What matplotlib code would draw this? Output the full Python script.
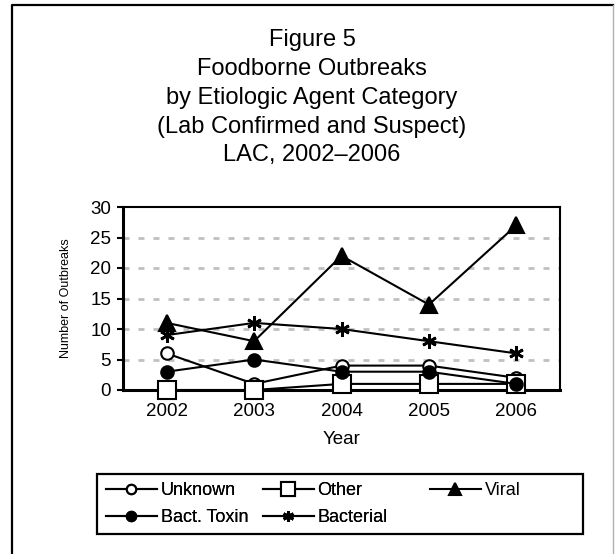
import matplotlib
matplotlib.use("Agg")
import matplotlib.pyplot as plt
from matplotlib.lines import Line2D
from matplotlib.patches import Rectangle

plt.rcParams['font.family'] = ['Liberation Sans', 'DejaVu Sans']
plt.rcParams['lines.scale_dashes'] = False

# data
years = ["2002", "2003", "2004", "2005", "2006"]
unknown = [6, 1, 4, 4, 2]
other = [0, 0, 1, 1, 1]
viral = [11, 8, 22, 14, 27]
bact_toxin = [3, 5, 3, 3, 1]
bacterial = [9, 11, 10, 8, 6]

title_lines = ["Figure 5", "Foodborne Outbreaks", "by Etiologic Agent Category",
               "(Lab Confirmed and Suspect)", "LAC, 2002\u20132006"]

W, H = 615, 554
def fx(x):
    return x / W
def fy(y):
    return 1 - y / H

fig = plt.figure(figsize=(6.15, 5.54), dpi=100)

# outer frame
fig.add_artist(Line2D([fx(12), fx(12), fx(613)], [0, fy(5), fy(5)], color="black", lw=1.6))
fig.add_artist(Line2D([fx(613), fx(613)], [fy(5), 0], color="#b0b0b0", lw=1.0))

# title
baselines = [46, 75, 104, 132.5, 161]
for line, yb in zip(title_lines, baselines):
    fig.text(fx(312), fy(yb), line, ha="center", va="baseline", fontsize=17)

ax = fig.add_axes([fx(123), fy(390), (560 - 123) / W, (390 - 207) / H])
x = list(range(len(years)))

style = dict(color="black", lw=1.5, mec="black", clip_on=False, zorder=3)
ax.plot(x, unknown, marker="o", ms=9, mfc="white", mew=1.5, label="Unknown", **style)
ax.plot(x, other, marker="s", ms=12.5, mfc="white", mew=1.5, label="Other", **style)
ax.plot(x, viral, marker="^", ms=11, mfc="black", mew=1.5, label="Viral", **style)
ax.plot(x, bact_toxin, marker="o", ms=9, mfc="black", mew=1.5, label="Bact. Toxin", **style)
ax.plot(x, bacterial, marker=(6, 2, 0), ms=10.5, mew=2, label="Bacterial", **style)

ax.set_xlim(-0.5, len(years) - 0.5)
ax.set_ylim(0, 30)
ax.set_yticks([0, 5, 10, 15, 20, 25, 30])
ax.set_xticks(x)
ax.set_xticklabels(years)
for yv in [5, 10, 15, 20, 25]:
    ax.axhline(yv, color="#c0c0c0", lw=2, dashes=(4.3, 6.5), zorder=1)

ax.tick_params(axis="y", direction="out", length=4.5, width=1.5, pad=4, labelsize=13.5)
ax.tick_params(axis="x", length=0, pad=9, labelsize=13.5)
for side in ["left", "bottom"]:
    ax.spines[side].set_linewidth(2.2)
for side in ["top", "right"]:
    ax.spines[side].set_linewidth(1.5)
ax.spines["bottom"].set_zorder(2.5)

ax.set_xlabel("Year", fontsize=13.5, labelpad=8)
ax.set_ylabel("Number of Outbreaks", fontsize=9, labelpad=13)

# legend
h = {l.get_label(): l for l in ax.get_lines()}
leg_kw = dict(loc="upper left", frameon=False, fontsize=13, handlelength=2.8,
              handletextpad=0.22, borderpad=0, borderaxespad=0, labelspacing=0.55,
              markerscale=0.75)
leg1 = fig.legend([h["Unknown"], h["Bact. Toxin"], h["Other"], h["Bacterial"]],
                  ["Unknown", "Bact. Toxin", "Other", "Bacterial"],
                  ncol=2, bbox_to_anchor=(fx(106), fy(482)), columnspacing=0.83, **leg_kw)
leg2 = fig.legend([h["Viral"]], ["Viral"], bbox_to_anchor=(fx(430), fy(482)), **leg_kw)
fig.add_artist(leg1)
fig.add_artist(Rectangle((fx(97), fy(534)), fx(583) - fx(97), fy(474) - fy(534),
                         transform=fig.transFigure, fill=False, ec="black", lw=1.6))

fig.savefig("out.png", dpi=100)
